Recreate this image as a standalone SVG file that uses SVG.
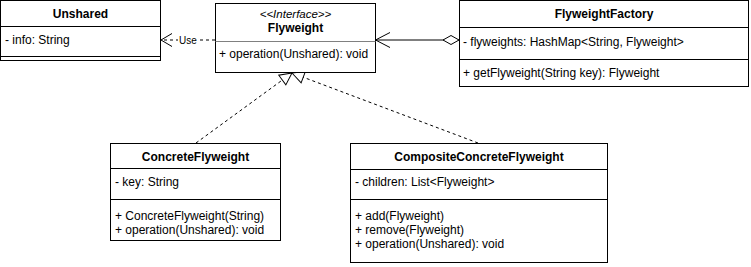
<svg xmlns="http://www.w3.org/2000/svg" width="751" height="267" viewBox="0 0 751 267">
  <style>
    .box { fill: #ffffff; stroke: #000000; stroke-width: 1; }
    .sep { stroke: #000000; stroke-width: 1; fill: none; }
    .sep-soft { stroke: #808080; stroke-width: 1; fill: none; }
    .t { font-family: "Liberation Sans", Arial, Helvetica, sans-serif; font-size: 12px; fill: #000000; }
    .title { font-weight: bold; text-anchor: middle; }
    .stereo { font-style: italic; font-size: 11.5px; text-anchor: middle; }
    .lbl { font-family: "Liberation Sans", Arial, Helvetica, sans-serif; font-size: 10px; fill: #000000; }
    .edge { stroke: #000000; stroke-width: 1; fill: none; }
    .dashed { stroke-dasharray: 3 3; }
  </style>
  <defs>
    <!-- open arrowhead for the dependency -->
    <marker id="openSmall" markerUnits="userSpaceOnUse" orient="auto" overflow="visible" markerWidth="1" markerHeight="1">
      <path d="M-11,-6.5 L0,0 L-11,6.5" fill="none" stroke="#000000" stroke-width="1"/>
    </marker>
    <!-- open arrowhead for the association end -->
    <marker id="openLarge" markerUnits="userSpaceOnUse" orient="auto" overflow="visible" markerWidth="1" markerHeight="1">
      <path d="M-14.5,-7.5 L0,0 L-14.5,7.5" fill="none" stroke="#000000" stroke-width="1"/>
    </marker>
    <!-- hollow triangle for realization -->
    <marker id="realize" markerUnits="userSpaceOnUse" orient="auto" overflow="visible" markerWidth="1" markerHeight="1">
      <path d="M0,0 L-12,-6 L-12,6 Z" fill="#ffffff" stroke="#000000" stroke-width="1"/>
    </marker>
    <!-- hollow diamond for aggregation -->
    <marker id="aggregate" markerUnits="userSpaceOnUse" orient="auto" overflow="visible" markerWidth="1" markerHeight="1">
      <path d="M0,0 L8,-4.5 L16,0 L8,4.5 Z" fill="#ffffff" stroke="#000000" stroke-width="1"/>
    </marker>
  </defs>

  <rect width="751" height="267" fill="#ffffff"/>

  <!-- connectors -->
  <g id="connectors">
    <!-- Flyweight uses Unshared -->
    <path class="edge dashed" d="M215,40 L161,40" marker-end="url(#openSmall)"/>
    <rect x="178" y="34" width="20" height="12" fill="#ffffff"/>
    <text class="lbl" x="188" y="43.5" text-anchor="middle">Use</text>
    <!-- FlyweightFactory aggregates Flyweight -->
    <path class="edge" d="M459,40 L375.5,40" marker-start="url(#aggregate)" marker-end="url(#openLarge)"/>
    <text class="lbl" x="461.5" y="35.5">1</text>
    <!-- realizations of Flyweight -->
    <path class="edge dashed" d="M196,143 L292,73" marker-end="url(#realize)"/>
    <path class="edge dashed" d="M478,143 L292,73" marker-end="url(#realize)"/>
  </g>

  <!-- Unshared -->
  <g id="unshared">
    <rect class="box" x="0.5" y="0.5" width="160" height="60"/>
    <line class="sep" x1="0.5" y1="26.5" x2="160.5" y2="26.5"/>
    <line class="sep" x1="0.5" y1="56.5" x2="160.5" y2="56.5"/>
    <text class="t title" x="80.5" y="18">Unshared</text>
    <text class="t" x="5" y="44">- info: String</text>
  </g>

  <!-- Flyweight interface -->
  <g id="flyweight">
    <rect class="box" x="215.5" y="3.5" width="160" height="69"/>
    <line class="sep-soft" x1="215.5" y1="41.5" x2="375.5" y2="41.5"/>
    <text class="t stereo" x="295.5" y="17.5">&lt;&lt;Interface&gt;&gt;</text>
    <text class="t title" x="295.5" y="32">Flyweight</text>
    <text class="t" x="219" y="57.5">+ operation(Unshared): void</text>
  </g>

  <!-- FlyweightFactory -->
  <g id="flyweight-factory">
    <rect class="box" x="459.5" y="0.5" width="289" height="86"/>
    <line class="sep" x1="459.5" y1="27.5" x2="748.5" y2="27.5"/>
    <line class="sep" x1="459.5" y1="59.5" x2="748.5" y2="59.5"/>
    <text class="t title" x="604" y="18">FlyweightFactory</text>
    <text class="t" x="463" y="45.5">- flyweights: HashMap&lt;String, Flyweight&gt;</text>
    <text class="t" x="463" y="76.5">+ getFlyweight(String key): Flyweight</text>
  </g>

  <!-- ConcreteFlyweight -->
  <g id="concrete-flyweight">
    <rect class="box" x="110.5" y="143.5" width="170" height="97"/>
    <line class="sep" x1="110.5" y1="168.5" x2="280.5" y2="168.5"/>
    <line class="sep" x1="110.5" y1="199.5" x2="280.5" y2="199.5"/>
    <text class="t title" x="195.5" y="161">ConcreteFlyweight</text>
    <text class="t" x="115" y="186">- key: String</text>
    <text class="t" x="115" y="219.5">+ ConcreteFlyweight(String)</text>
    <text class="t" x="115" y="233.5">+ operation(Unshared): void</text>
  </g>

  <!-- CompositeConcreteFlyweight -->
  <g id="composite-concrete-flyweight">
    <rect class="box" x="350.5" y="143.5" width="257" height="119"/>
    <line class="sep" x1="350.5" y1="169.5" x2="607.5" y2="169.5"/>
    <line class="sep" x1="350.5" y1="199.5" x2="607.5" y2="199.5"/>
    <text class="t title" x="479" y="161">CompositeConcreteFlyweight</text>
    <text class="t" x="355" y="186">- children: List&lt;Flyweight&gt;</text>
    <text class="t" x="355" y="219.5">+ add(Flyweight)</text>
    <text class="t" x="355" y="233.5">+ remove(Flyweight)</text>
    <text class="t" x="355" y="247.5">+ operation(Unshared): void</text>
  </g>
</svg>
